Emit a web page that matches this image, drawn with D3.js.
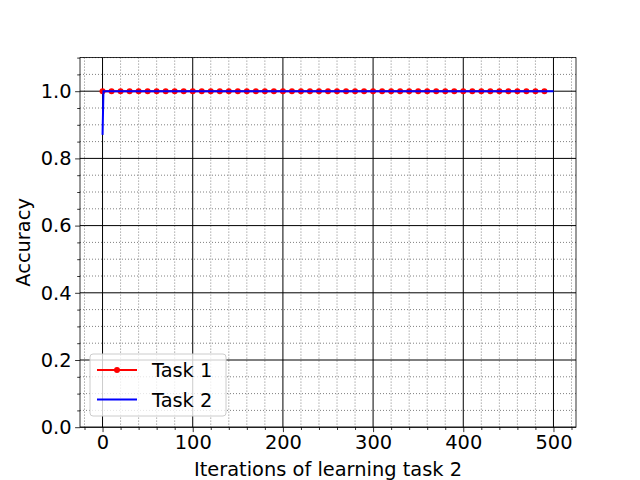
<!DOCTYPE html>
<html><head><meta charset="utf-8">
<script src="https://cdn.jsdelivr.net/npm/d3@7"></script>
<style>body{margin:0;background:#fff}svg{display:block}text{font-family:"DejaVu Sans",sans-serif}</style>
</head><body>
<script>
const task1Iters = [0,10,20,30,40,50,60,70,80,90,100,110,120,130,140,150,160,170,180,190,200,210,220,230,240,250,260,270,280,290,300,310,320,330,340,350,360,370,380,390,400,410,420,430,440,450,460,470,480,490];
const task1Acc = [1,1,1,1,1,1,1,1,1,1,1,1,1,1,1,1,1,1,1,1,1,1,1,1,1,1,1,1,1,1,1,1,1,1,1,1,1,1,1,1,1,1,1,1,1,1,1,1,1,1];
const task2Iters = [0,1,10,20,30,40,50,60,70,80,90,100,110,120,130,140,150,160,170,180,190,200,210,220,230,240,250,260,270,280,290,300,310,320,330,340,350,360,370,380,390,400,410,420,430,440,450,460,470,480,490,500];
const task2Acc = [0.87,1,1,1,1,1,1,1,1,1,1,1,1,1,1,1,1,1,1,1,1,1,1,1,1,1,1,1,1,1,1,1,1,1,1,1,1,1,1,1,1,1,1,1,1,1,1,1,1,1,1,1];
const xMajor = [0,100,200,300,400,500];
const yMajor = [0.0,0.2,0.4,0.6,0.8,1.0];
const seriesNames = ["Task 1","Task 2"];
const seriesColors = ["#ff0000","#0000ff"];
const xLabel = "Iterations of learning task 2";
const yLabel = "Accuracy";

const W=640,H=480, L=80,R=576,T=57.6,B=427.2;
const svg=d3.select("body").append("svg").attr("width",W).attr("height",H);
const x=d3.scaleLinear().domain([-25,525]).range([L,R]);
const y=d3.scaleLinear().domain([0,1.1]).range([B,T]);
const xMinor=d3.range(-20,525,20).filter(v=>v%100!==0);
const yMinor=d3.range(0,1.1001,0.05).map(v=>+v.toFixed(2)).filter(v=>Math.abs(v*5-Math.round(v*5))>1e-6);
const g=svg.append("g");
// minor grid
g.selectAll(".mx").data(xMinor).join("line").attr("x1",d=>x(d)).attr("x2",d=>x(d)).attr("y1",T).attr("y2",B)
 .attr("stroke","#808080").attr("stroke-width",1).attr("stroke-dasharray","1,2");
g.selectAll(".my").data(yMinor).join("line").attr("y1",d=>y(d)).attr("y2",d=>y(d)).attr("x1",L).attr("x2",R)
 .attr("stroke","#808080").attr("stroke-width",1).attr("stroke-dasharray","1,2");
// major grid
g.selectAll(".Mx").data(xMajor).join("line").attr("x1",d=>x(d)).attr("x2",d=>x(d)).attr("y1",T).attr("y2",B)
 .attr("stroke","#000").attr("stroke-width",1);
g.selectAll(".My").data(yMajor).join("line").attr("y1",d=>y(d)).attr("y2",d=>y(d)).attr("x1",L).attr("x2",R)
 .attr("stroke","#000").attr("stroke-width",1);
// lines
const line=d3.line().x(d=>x(d[0])).y(d=>y(d[1]));
const d1=task1Iters.map((v,i)=>[v,task1Acc[i]]);
const d2=task2Iters.map((v,i)=>[v,task2Acc[i]]);
g.append("path").attr("d",line(d1)).attr("fill","none").attr("stroke",seriesColors[0]).attr("stroke-width",2);
g.selectAll(".m1").data(d1).join("circle").attr("cx",d=>x(d[0])).attr("cy",d=>y(d[1])).attr("r",3).attr("fill",seriesColors[0]);
g.append("path").attr("d",line(d2)).attr("fill","none").attr("stroke",seriesColors[1]).attr("stroke-width",2);
// axes
const fs="19.4px";
const xAxis=d3.axisBottom(x).tickValues(xMajor).tickSize(4.9).tickPadding(3.5).tickFormat(d3.format("d"));
const yAxis=d3.axisLeft(y).tickValues(yMajor).tickSize(4.9).tickPadding(3.5).tickFormat(d3.format(".1f"));
const gx=svg.append("g").attr("transform",`translate(0,${B})`).call(xAxis);
const gy=svg.append("g").attr("transform",`translate(${L},0)`).call(yAxis);
svg.append("g").attr("transform",`translate(0,${B})`).call(d3.axisBottom(x).tickValues(xMinor).tickSize(2.8).tickFormat(""));
svg.append("g").attr("transform",`translate(${L},0)`).call(d3.axisLeft(y).tickValues(yMinor).tickSize(2.8).tickFormat(""));
svg.selectAll(".domain").remove();
svg.selectAll(".tick line").attr("stroke","#000").attr("stroke-width",0.8);
[gx,gy].forEach(a=>a.selectAll("text").attr("font-size",fs).attr("fill","#000").attr("font-family","DejaVu Sans"));
svg.append("rect").attr("x",L).attr("y",T).attr("width",R-L).attr("height",B-T).attr("fill","none").attr("stroke","#000").attr("stroke-width",0.8);
svg.append("text").attr("x",(L+R)/2).attr("y",476).attr("text-anchor","middle").attr("font-size",fs).text(xLabel);
svg.append("text").attr("transform",`translate(30,${(T+B)/2}) rotate(-90)`).attr("text-anchor","middle").attr("font-size",fs).text(yLabel);
// legend
const lg=svg.append("g");
lg.append("rect").attr("x",90).attr("y",354).attr("width",136).attr("height",62).attr("rx",3)
 .attr("fill","#fff").attr("fill-opacity",0.8).attr("stroke","#cccccc").attr("stroke-width",1);
seriesNames.forEach((n,i)=>{
  const yy=370+i*29.5;
  lg.append("line").attr("x1",97).attr("x2",137).attr("y1",yy).attr("y2",yy).attr("stroke",seriesColors[i]).attr("stroke-width",2);
  if(i===0) lg.append("circle").attr("cx",117).attr("cy",yy).attr("r",3).attr("fill",seriesColors[i]);
  lg.append("text").attr("x",152).attr("y",yy+7).attr("font-size",fs).text(n);
});
</script>
</body></html>
